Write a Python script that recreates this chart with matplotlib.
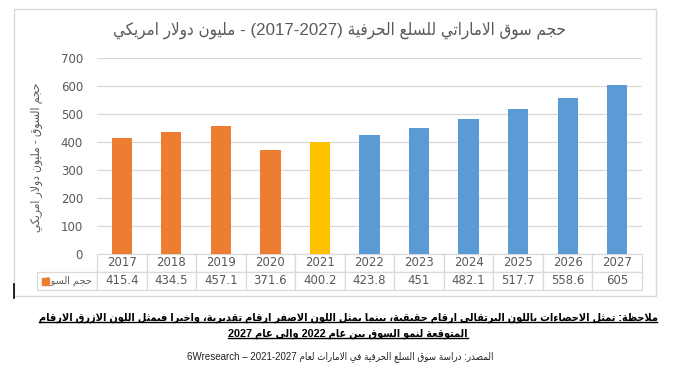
import matplotlib
matplotlib.use("Agg")
import matplotlib.pyplot as plt
from matplotlib.patches import Rectangle
from matplotlib.lines import Line2D

# data
years = [2017, 2018, 2019, 2020, 2021, 2022, 2023, 2024, 2025, 2026, 2027]
values = [415.4, 434.5, 457.1, 371.6, 400.2, 423.8, 451, 482.1, 517.7, 558.6, 605]
status = ["actual"] * 4 + ["estimate"] + ["forecast"] * 6
yticks = [0, 100, 200, 300, 400, 500, 600, 700]

colors = {"actual": "#ED7D31", "estimate": "#FFC000", "forecast": "#5B9BD5"}
grey = "#595959"
grid = "#D9D9D9"
fam = ["Liberation Sans", "DejaVu Sans"]

# --- minimal arabic shaping (matplotlib has no text shaping / bidi) ---
FORMS = {
    "\u0621": (0xFE80, 1), "\u0622": (0xFE81, 2), "\u0623": (0xFE83, 2),
    "\u0624": (0xFE85, 2), "\u0625": (0xFE87, 2), "\u0626": (0xFE89, 4),
    "\u0627": (0xFE8D, 2), "\u0628": (0xFE8F, 4), "\u0629": (0xFE93, 2),
    "\u062A": (0xFE95, 4), "\u062B": (0xFE99, 4), "\u062C": (0xFE9D, 4),
    "\u062D": (0xFEA1, 4), "\u062E": (0xFEA5, 4), "\u062F": (0xFEA9, 2),
    "\u0630": (0xFEAB, 2), "\u0631": (0xFEAD, 2), "\u0632": (0xFEAF, 2),
    "\u0633": (0xFEB1, 4), "\u0634": (0xFEB5, 4), "\u0635": (0xFEB9, 4),
    "\u0636": (0xFEBD, 4), "\u0637": (0xFEC1, 4), "\u0638": (0xFEC5, 4),
    "\u0639": (0xFEC9, 4), "\u063A": (0xFECD, 4), "\u0641": (0xFED1, 4),
    "\u0642": (0xFED5, 4), "\u0643": (0xFED9, 4), "\u0644": (0xFEDD, 4),
    "\u0645": (0xFEE1, 4), "\u0646": (0xFEE5, 4), "\u0647": (0xFEE9, 4),
    "\u0648": (0xFEED, 2), "\u0649": (0xFEEF, 2), "\u064A": (0xFEF1, 4),
    "\u0644\u0627": (0xFEFB, 2), "\u0644\u0623": (0xFEF7, 2),
    "\u0644\u0625": (0xFEF9, 2), "\u0644\u0622": (0xFEF5, 2),
}


def ar(s):
    toks = []
    i = 0
    while i < len(s):
        if s[i] == "\u0644" and i + 1 < len(s) and s[i:i + 2] in FORMS:
            toks.append(s[i:i + 2])
            i += 2
        else:
            toks.append(s[i])
            i += 1
    out = []
    for k, t in enumerate(toks):
        if t not in FORMS:
            out.append(t)
            continue
        base, n = FORMS[t]
        prev = toks[k - 1] if k > 0 else None
        nxt = toks[k + 1] if k + 1 < len(toks) else None
        jp = n >= 2 and prev in FORMS and FORMS[prev][1] == 4
        jn = n == 4 and nxt in FORMS and FORMS[nxt][1] >= 2
        if jp and jn:
            c = base + 3
        elif jp:
            c = base + 1
        elif jn:
            c = base + 2
        else:
            c = base
        out.append(chr(c))
    return "".join(out)[::-1]


title = ar("- مليون دولار امريكي") + " (2017-2027) " + ar("حجم سوق الاماراتي للسلع الحرفية")
ylabel = ar("حجم السوق - مليون دولار امريكي")
series_name = ar("حجم السوق")
note1 = ar("ملاحظة: تمثل الاحصاءات باللون البرتقالى ارقام حقيقية، بينما يمثل اللون الاصفر ارقام تقديرية، واخيرا فيمثل اللون الازرق الارقام")
note2 = "2027" + ar(" والى عام ") + "2022" + ar("المتوقعة لنمو السوق بين عام ")
source = "6Wresearch \u2013 2021-2027 " + ar("المصدر: دراسة سوق السلع الحرفية في الامارات لعام")

W, H = 673, 389
fig = plt.figure(figsize=(W / 100, H / 100), dpi=100)
fig.patch.set_facecolor("white")


def fx(px):
    return px / W


def fy(py):
    return 1 - py / H


# chart frame
fig.add_artist(Rectangle((fx(14), fy(296)), fx(656) - fx(14), fy(9) - fy(296),
                         transform=fig.transFigure, fill=False, edgecolor=grid, lw=1))
fig.add_artist(Line2D([fx(14), fx(14)], [fy(284), fy(298)], color="black", lw=1.2,
                      transform=fig.transFigure))

ax = fig.add_axes([fx(97), fy(254), fx(642) - fx(97), fy(58) - fy(254)])
x = list(range(len(years)))
ax.bar(x, values, width=0.41, color=[colors[s] for s in status], zorder=3)
ax.set_xlim(-0.5, len(years) - 0.5)
ax.set_ylim(0, 700)
ax.set_yticks(yticks)
ax.yaxis.grid(True, color=grid, lw=0.9)
ax.set_axisbelow(True)
ax.tick_params(axis="y", length=0, labelsize=8.5, labelcolor=grey, pad=10)
ax.set_xticks([])
for sp in ax.spines.values():
    sp.set_visible(False)

# data table under the axes
cell_text = [[""] + [str(y) for y in years],
             [series_name] + [f"{v:g}" for v in values]]
lab_w = (97 - 37) / 545
col_w = 1 / len(years)
tab = ax.table(cellText=cell_text, colWidths=[lab_w] + [col_w] * len(years),
               cellLoc="center", bbox=[-lab_w, -36 / 196, 1 + lab_w, 36 / 196])
tab.auto_set_font_size(False)
tab.set_fontsize(8.5)
for (r, c), cell in tab.get_celld().items():
    cell.set_edgecolor(grid)
    cell.set_linewidth(0.9)
    cell.get_text().set_color(grey)
    if r == 0 and c == 0:
        cell.visible_edges = ""
    if r == 1 and c == 0:
        cell.get_text().set_fontsize(7)
        cell.PAD = 0.06
        cell._loc = "right"
fig.add_artist(Rectangle((fx(42), fy(285)), fx(7), 7 / H, transform=fig.transFigure,
                         color=colors["actual"]))

fig.canvas.draw()
rend = fig.canvas.get_renderer()


def fit(t, target_px, horizontal=True):
    bb = t.get_window_extent(rend)
    size = bb.width if horizontal else bb.height
    t.set_fontsize(t.get_fontsize() * target_px / size)


tt = fig.text(fx(339), fy(30), title, ha="center", va="center", fontsize=11, color=grey,
              family=fam, fontstretch="condensed")
fit(tt, 452)
yl = fig.text(fx(37), fy(157), ylabel, ha="center", va="center", rotation=90,
              fontsize=7.5, color=grey, family=fam, fontstretch="condensed")
fit(yl, 150, horizontal=False)

t1 = fig.text(fx(348), fy(318), note1, ha="center", va="center", fontsize=8,
              fontweight="bold", color="black", family=fam, fontstretch="condensed")
fit(t1, 622)
t2 = fig.text(fx(348), fy(334), note2, ha="center", va="center", fontsize=8,
              fontweight="bold", color="black", family=fam, fontstretch="condensed")
t2.set_fontsize(t1.get_fontsize())
src = fig.text(fx(340), fy(357), source, ha="center", va="center", fontsize=7,
               color="#222222", family=fam, fontstretch="condensed")

# underline the note
fig.canvas.draw()
for t in (t1, t2):
    bb = t.get_window_extent(rend).transformed(fig.transFigure.inverted())
    fig.add_artist(Line2D([bb.x0, bb.x1], [bb.y0 + 0.002, bb.y0 + 0.002], color="black",
                          lw=1, transform=fig.transFigure))

fig.savefig("out.png", dpi=100)
